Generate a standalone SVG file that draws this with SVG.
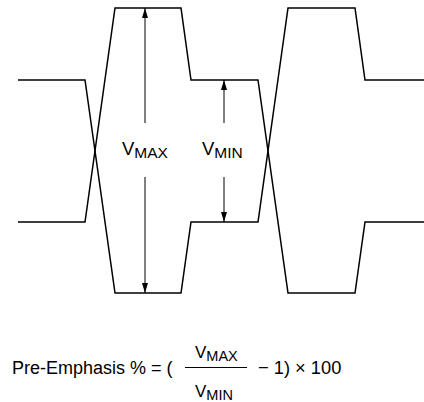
<svg xmlns="http://www.w3.org/2000/svg" width="424" height="402" viewBox="0 0 424 402">
<defs>
<style>
.sig{fill:none;stroke:#000;stroke-width:1.5;stroke-linejoin:miter}
.arr{fill:none;stroke:#000;stroke-width:1}
text{font-family:"Liberation Sans",Arial,sans-serif;fill:#000}
</style>
<marker id="ah" viewBox="0 0 10 6" refX="10" refY="3" markerWidth="10" markerHeight="6" markerUnits="userSpaceOnUse" orient="auto">
<path d="M0,0 L10,3 L0,6 Z" fill="#000"/>
</marker>
</defs>
<g id="signals">
<path id="traceA" class="sig" d="M18,80 H85 L115,293 H181 L191,222 H258 L288,8 H355 L365,80 H424"/>
<path id="traceB" class="sig" d="M18,222 H85 L115,8 H181 L191,80 H258 L288,293 H355 L365,222 H424"/>
</g>
<g id="connectors">
<line class="arr" x1="145" y1="123" x2="145" y2="8" marker-end="url(#ah)"/>
<line class="arr" x1="145" y1="177" x2="145" y2="293" marker-end="url(#ah)"/>
<line class="arr" x1="224" y1="123" x2="224" y2="80" marker-end="url(#ah)"/>
<line class="arr" x1="224" y1="177" x2="224" y2="222" marker-end="url(#ah)"/>
</g>
<g id="label-vmax">
<text x="122" y="155" font-size="18.5">V<tspan font-size="15.5" dy="3">MAX</tspan></text>
</g>
<g id="label-vmin">
<text x="202" y="155" font-size="18.5">V<tspan font-size="15.5" dy="3">MIN</tspan></text>
</g>
<g id="formula">
<text x="12" y="374" font-size="18">Pre-Emphasis % = (</text>
<line x1="185" y1="367.5" x2="247" y2="367.5" stroke="#000" stroke-width="1"/>
<text x="195" y="358" font-size="17">V<tspan font-size="14.5" dy="3">MAX</tspan></text>
<text x="195" y="397" font-size="17">V<tspan font-size="14.5" dy="3">MIN</tspan></text>
<text x="258" y="374" font-size="18.3">− 1) × 100</text>
</g>
</svg>
